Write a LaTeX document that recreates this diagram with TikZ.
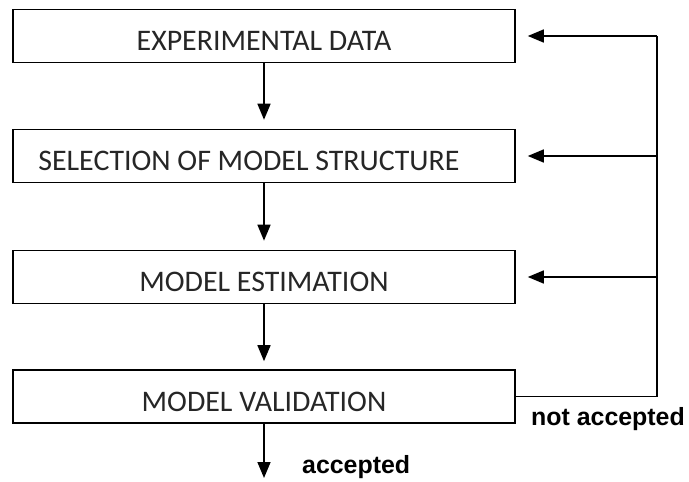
\documentclass[tikz,border=0pt]{standalone}
\usepackage{fontspec}
\setmainfont{Carlito}
\newfontfamily\lblfont{Liberation Sans}
\usetikzlibrary{arrows.meta}
\usetikzlibrary{calc}

\tikzset{
	stage/.style = {draw, line width=1.6pt, minimum width=502bp, minimum height=53bp,
		inner sep=0pt, text height=29bp, text depth=0pt,
		font=\fontsize{30}{34}\selectfont, text=black!85},
	flow/.style = {line width=1.6pt, -{Triangle[length=16bp,width=13bp]}},
	lbl/.style = {font=\lblfont\bfseries\fontsize{25}{30}\selectfont, inner sep=0pt}
}

\begin{document}
\begin{tikzpicture}[x=1bp,y=-1bp]

		\useasboundingbox (0,0) rectangle (689,482);

		\node [stage] (exp) at (264,36) {EXPERIMENTAL DATA};
		\node [stage] (sel) at (264,156) {\hspace*{-30bp}SELECTION OF MODEL STRUCTURE};
		\node [stage] (est) at (264,277) {MODEL ESTIMATION};
		\node [stage] (val) at (264,396.5) {MODEL VALIDATION};

		\coordinate (turn) at (657,396.5);
		\coordinate (out) at (264,478);

		% main chain
		\draw [flow, shorten >=9bp] (exp) -- (sel);
		\draw [flow, shorten >=9bp] (sel) -- (est);
		\draw [flow, shorten >=8bp] (est) -- (val);
		\draw [flow] (val) -- (out);

		% feedback when the model is rejected
		\draw [line width=1.6pt] (val.east) -- (turn) -- (turn |- exp.east);
		\draw [flow, shorten >=12bp] (turn |- exp.east) -- (exp.east);
		\draw [flow, shorten >=12bp] (turn |- sel.east) -- (sel.east);
		\draw [flow, shorten >=12bp] (turn |- est.east) -- (est.east);

		\node [lbl, anchor=base west] (rej) at (531,425) {not accepted};
		\node [lbl, anchor=base west] (acc) at (302,473) {accepted};

\end{tikzpicture}
\end{document}
